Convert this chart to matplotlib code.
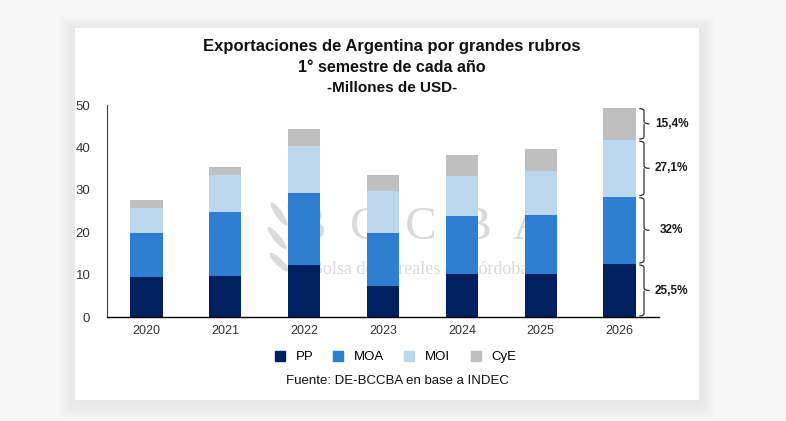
import matplotlib
matplotlib.use("Agg")
import matplotlib.pyplot as plt
from matplotlib.patches import Rectangle, Ellipse, Path, PathPatch
from matplotlib.lines import Line2D
from matplotlib.transforms import IdentityTransform

years = ['2020', '2021', '2022', '2023', '2024', '2025', '2026']
pp = [9.4, 9.6, 12.2, 7.4, 10.1, 10.1, 12.5]
moa = [10.5, 15.2, 17.0, 12.5, 13.7, 13.9, 15.9]
moi = [5.9, 8.7, 11.1, 9.8, 9.5, 10.4, 13.3]
cye = [1.7, 1.9, 4.0, 3.8, 4.8, 5.2, 7.7]
series_names = ['PP', 'MOA', 'MOI', 'CyE']
shares_2026 = ['25,5%', '32%', '27,1%', '15,4%']

colors = ['#002060', '#2E7FD1', '#BDD7EE', '#BFBFBF']

plt.rcParams['font.family'] = ['Liberation Sans', 'DejaVu Sans']

fig = plt.figure(figsize=(7.86, 4.21), dpi=100)
fig.patch.set_facecolor('#f7f7f7')

# white card with a soft shadow
W, H = 786, 421
px = lambda x0, y0, x1, y1: (x0 / W, 1 - y1 / H, (x1 - x0) / W, (y1 - y0) / H)
for g in range(16, 0, -1):
    x, y, w, h = px(75 - g, 28 - g + 3, 699 + g, 400 + g + 3)
    fig.patches.append(Rectangle((x, y), w, h, transform=fig.transFigure,
                                 facecolor='black', alpha=0.0035, edgecolor='none', zorder=0))
x, y, w, h = px(75, 28, 699, 400)
fig.patches.append(Rectangle((x, y), w, h, transform=fig.transFigure,
                             facecolor='white', edgecolor='none', zorder=0))

ax = fig.add_axes([107 / W, 1 - 317 / H, 552 / W, 212 / H])
ax.set_zorder(2)
ax.patch.set_visible(False)

xs = range(len(years))
bottom = [0] * len(years)
for vals, name, c in zip([pp, moa, moi, cye], series_names, colors):
    ax.bar(xs, vals, 0.41, bottom=bottom, color=c, label=name, zorder=2)
    bottom = [b + v for b, v in zip(bottom, vals)]

ax.set_xlim(-0.5, 6.5)
ax.set_ylim(0, 50)
ax.set_yticks(range(0, 51, 10))
ax.set_xticks(list(xs))
ax.set_xticklabels(years)
ax.tick_params(length=0, labelsize=9, colors='#333333', pad=6)
ax.tick_params(axis='y', pad=12, labelsize=9.5)
for s in ['top', 'right']:
    ax.spines[s].set_visible(False)
ax.spines['left'].set_color('#404040')
ax.spines['left'].set_linewidth(0.8)
ax.spines['bottom'].set_color('black')
ax.spines['bottom'].set_linewidth(1.0)

# watermark (logo + text) behind the bars
wm = '#dadada'
ax.text(421 / W, 1 - 228 / H, 'B  C  C  B  A', transform=fig.transFigure,
        family='Liberation Serif', fontsize=34, color=wm,
        ha='center', va='center', zorder=1)
ax.text(420 / W, 1 - 270 / H, 'Bolsa de Cereales de Córdoba', transform=fig.transFigure,
        family='Liberation Serif', fontsize=13, color=wm,
        ha='center', va='center', zorder=1)
leaves = [(292, 198, 7, 30, -10), (279, 214, 7, 28, 35), (300, 222, 7, 26, -35),
          (277, 238, 7, 28, 40), (299, 246, 7, 26, -40), (279, 262, 7, 26, 45),
          (296, 268, 6, 22, -45)]
for cx, cy, w_, h_, ang in leaves:
    ax.add_patch(Ellipse((cx, H - cy), w_, h_, angle=ang, transform=IdentityTransform(),
                         facecolor=wm, edgecolor='none', zorder=1, clip_on=False))

# braces next to the 2026 bar
last = len(years) - 1
segs = [pp[last], moa[last], moi[last], cye[last]]
xh, xv, xt = 6.25, 6.31, 6.38
start = 0
for v, lab in zip(segs, shares_2026):
    y0, y1 = start + 0.25, start + v - 0.25
    ym = (y0 + y1) / 2
    d = 0.6
    verts = [(xh, y1), (xv, y1), (xv, y1 - d), (xv, ym + d), (xv, ym), (xt, ym),
             (xv, ym), (xv, ym - d), (xv, y0 + d), (xv, y0), (xh, y0)]
    codes = [Path.MOVETO, Path.CURVE3, Path.CURVE3, Path.LINETO, Path.CURVE3, Path.CURVE3,
             Path.MOVETO, Path.CURVE3, Path.LINETO, Path.CURVE3, Path.CURVE3]
    ax.add_patch(PathPatch(Path(verts, codes), facecolor='none', edgecolor='#333333',
                           lw=0.9, clip_on=False, zorder=3))
    ax.text(6.66, ym, lab, ha='center', va='center', fontsize=8.5,
            fontweight='bold', color='#1a1a1a', clip_on=False)
    start += v

# titles
fig.text(0.499, 1 - 46 / H, 'Exportaciones de Argentina por grandes rubros',
         ha='center', va='center', fontsize=12, fontweight='bold', color='#111111')
fig.text(0.499, 1 - 67 / H, '1° semestre de cada año',
         ha='center', va='center', fontsize=11.5, fontweight='bold', color='#111111')
fig.text(0.499, 1 - 88 / H, '-Millones de USD-',
         ha='center', va='center', fontsize=11, fontweight='bold', color='#111111')

handles = [Line2D([], [], marker='s', ls='none', markersize=7, color=c) for c in colors]
fig.legend(handles, series_names, loc='center', bbox_to_anchor=(0.498, 1 - 357 / H),
           ncol=4, frameon=False, fontsize=9.5, handletextpad=0.2, columnspacing=0.9)

fig.text(0.506, 1 - 381 / H, 'Fuente: DE-BCCBA en base a INDEC',
         ha='center', va='center', fontsize=9.5, color='#111111')

fig.savefig('out.png', dpi=100, facecolor=fig.get_facecolor())
